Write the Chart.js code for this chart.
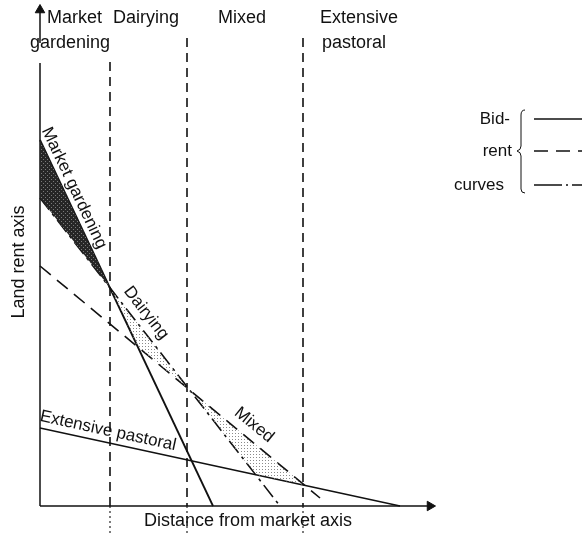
<!DOCTYPE html>
<html>
<head>
<meta charset="utf-8">
<script src="https://cdn.jsdelivr.net/npm/chart.js@4.4.1/dist/chart.umd.min.js"></script>
<style>
  html, body { margin: 0; padding: 0; background: #ffffff; }
  #wrap { width: 586px; height: 536px; }
</style>
</head>
<body>
<div id="wrap"><canvas id="c" width="586" height="536"></canvas></div>
<script>
// ---------- data ----------
const curveNames      = ['Market gardening', 'Dairying', 'Mixed', 'Extensive pastoral'];
const rentAtMarket    = [366, 308, 240, 78];     // bid rent at distance 0
const curveEndDist    = [173, 240, 280, 360];    // distance where each drawn curve stops
const curveEndRent    = [0, 0, 8, 0];            // rent at that end
const zoneNames       = [['Market', 'gardening'], ['Dairying'], ['Mixed'], ['Extensive', 'pastoral']];
const zoneBoundaries  = [70, 147, 263];          // distances of the zone dividers
const boundaryTops    = [444, 468, 468];         // top of each divider
const axisEnds        = { distance: 392, rent: 498 };
const legendWords     = ['Bid-', 'rent', 'curves'];

// ---------- helpers ----------
const slope = i => (curveEndRent[i] - rentAtMarket[i]) / curveEndDist[i];
const rentAt = (i, d) => rentAtMarket[i] + slope(i) * d;
function cross(i, j) {
  const d = (rentAtMarket[j] - rentAtMarket[i]) / (slope(i) - slope(j));
  return { x: d, y: rentAt(i, d) };
}
const MG = 0, DA = 1, MX = 2, EP = 3;

// shaded surplus areas (built from the curves' crossings)
const pMGDA = cross(MG, DA), pDAMX = cross(DA, MX), pMGMX = cross(MG, MX);
const pMXEP = cross(MX, EP), pDAEP = cross(DA, EP);
const darkArea = [{x: 0, y: rentAtMarket[MG]}, pMGDA, {x: 0, y: rentAtMarket[DA]}, {x: 0, y: rentAtMarket[MG]}];
const dairyArea = [pMGDA, pDAMX, pMGMX, pMGDA];
const mixedArea = [pDAMX, pMXEP, pDAEP, pDAMX];

// ---------- patterns ----------
function makePattern(bg, dot, size, dots) {
  const c = document.createElement('canvas');
  c.width = size; c.height = size;
  const g = c.getContext('2d');
  if (bg) { g.fillStyle = bg; g.fillRect(0, 0, size, size); }
  g.fillStyle = dot;
  dots.forEach(p => g.fillRect(p[0], p[1], 1, 1));
  return g.createPattern(c, 'repeat');
}
const darkFill  = makePattern('#262626', '#7a7a7a', 4, [[1, 1], [3, 3]]);
const lightFill = makePattern('rgba(0,0,0,0)', '#8a8a8a', 3, [[1, 1]]);

// ---------- datasets ----------
const curveStyles = [
  { w: 1.8, dash: [] },
  { w: 1.6, dash: [15, 5, 3, 5] },
  { w: 1.6, dash: [14, 8] },
  { w: 1.4, dash: [] }
];
const datasets = [];
// fills first
[[darkArea, darkFill], [dairyArea, lightFill], [mixedArea, lightFill]].forEach(([pts, bg]) => {
  datasets.push({ data: pts, showLine: true, fill: 'shape', backgroundColor: bg,
    borderWidth: 0, borderColor: 'rgba(0,0,0,0)', pointRadius: 0, tension: 0 });
});
// curves
curveNames.forEach((n, i) => {
  datasets.push({ label: n,
    data: [{x: 0, y: rentAtMarket[i]}, {x: curveEndDist[i], y: curveEndRent[i]}],
    showLine: true, fill: false, borderColor: '#111', borderWidth: curveStyles[i].w,
    borderDash: curveStyles[i].dash, pointRadius: 0 });
});
// zone dividers
zoneBoundaries.forEach((d, k) => {
  datasets.push({ data: [{x: d, y: boundaryTops[k]}, {x: d, y: 0}], showLine: true,
    borderColor: '#111', borderWidth: 1.6, borderDash: [9, 6], pointRadius: 0, fill: false });
  datasets.push({ data: [{x: d, y: 0}, {x: d, y: -30}], showLine: true,
    borderColor: '#111', borderWidth: 1.1, borderDash: [2, 3], pointRadius: 0, fill: false });
});
// axes
datasets.push({ data: [{x: 0, y: 0}, {x: 0, y: 443}], showLine: true, borderColor: '#111', borderWidth: 1.5, pointRadius: 0, fill: false });
datasets.push({ data: [{x: 0, y: 463}, {x: 0, y: axisEnds.rent - 4}], showLine: true, borderColor: '#111', borderWidth: 1.5, pointRadius: 0, fill: false });
datasets.push({ data: [{x: 0, y: axisEnds.rent - 2}], showLine: false, pointStyle: 'triangle', pointRadius: 5.5,
  pointRotation: 0, backgroundColor: '#111', borderColor: '#111', borderWidth: 1 });
datasets.push({ data: [{x: 0, y: 0}, {x: axisEnds.distance - 4, y: 0}], showLine: true, borderColor: '#111', borderWidth: 1.5, pointRadius: 0, fill: false });
datasets.push({ data: [{x: axisEnds.distance - 2, y: 0}], showLine: false, pointStyle: 'triangle', pointRadius: 5.5,
  pointRotation: 90, backgroundColor: '#111', borderColor: '#111', borderWidth: 1 });

// ---------- text plugin ----------
const FONT = '"Liberation Sans", Arial, Helvetica, sans-serif';
const zoneLabelSpots = [[7, 488], [73, 488], [178, 488], [280, 488]];
const curveLabelSpots = [[34, 318], [106, 193], [214, 81], [68, 75]];

const textPlugin = {
  id: 'texts',
  afterDatasetsDraw(chart) {
    const { ctx, scales: { x, y } } = chart;
    const X = v => x.getPixelForValue(v), Y = v => y.getPixelForValue(v);
    ctx.save();
    ctx.fillStyle = '#111';
    ctx.textBaseline = 'middle';
    ctx.font = '18px ' + FONT;
    // zone labels
    zoneNames.forEach((lines, k) => {
      const [dx, ry] = zoneLabelSpots[k];
      ctx.textAlign = 'left';
      ctx.fillText(lines[0], X(dx), Y(ry));
      if (lines[1]) {
        const off = k === 0 ? -17 : 2;
        ctx.fillText(lines[1], X(dx + off), Y(ry - 25));
      }
    });
    // axis titles
    ctx.textAlign = 'center';
    ctx.fillText('Distance from market axis', X(208), Y(-15));
    ctx.save();
    ctx.translate(X(-21), Y(244));
    ctx.rotate(-Math.PI / 2);
    ctx.fillText('Land rent axis', 0, 0);
    ctx.restore();
    // curve labels
    ctx.font = '17px ' + FONT;
    curveNames.forEach((n, i) => {
      const ang = Math.atan2(Y(curveEndRent[i]) - Y(rentAtMarket[i]), X(curveEndDist[i]) - X(0));
      const [dx, ry] = curveLabelSpots[i];
      ctx.save();
      ctx.translate(X(dx), Y(ry));
      ctx.rotate(ang);
      ctx.textAlign = 'center';
      ctx.fillText(n, 0, 0);
      ctx.restore();
    });
    // legend
    const ca = chart.chartArea;
    const lx = ca.left, ty = ca.top;
    ctx.font = '17px ' + FONT;
    ctx.textAlign = 'right';
    const rows = [119, 151, 185];
    const rights = [510, 512, 504];
    legendWords.forEach((w, k) => ctx.fillText(w, lx + rights[k], ty + rows[k]));
    ctx.strokeStyle = '#111';
    ctx.lineWidth = 1.6;
    const styles = [[], [14, 8], [28, 4, 2, 4]];
    rows.forEach((r, k) => {
      ctx.setLineDash(styles[k]);
      ctx.beginPath();
      ctx.moveTo(lx + 534, ty + r);
      ctx.lineTo(lx + 582, ty + r);
      ctx.stroke();
    });
    ctx.setLineDash([]);
    ctx.lineWidth = 1;
    ctx.beginPath();
    ctx.moveTo(lx + 525, ty + 110);
    ctx.quadraticCurveTo(lx + 521, ty + 110, lx + 521, ty + 115);
    ctx.lineTo(lx + 521, ty + 146);
    ctx.quadraticCurveTo(lx + 521, ty + 150, lx + 517, ty + 151);
    ctx.quadraticCurveTo(lx + 521, ty + 152, lx + 521, ty + 156);
    ctx.lineTo(lx + 521, ty + 189);
    ctx.quadraticCurveTo(lx + 521, ty + 193, lx + 525, ty + 193);
    ctx.stroke();
    ctx.restore();
  }
};

new Chart(document.getElementById('c'), {
  type: 'scatter',
  data: { datasets },
  options: {
    responsive: false,
    devicePixelRatio: 1,
    animation: false,
    layout: { padding: 0, autoPadding: false },
    plugins: { legend: { display: false }, tooltip: { enabled: false }, title: { display: false } },
    scales: {
      x: { type: 'linear', min: -40, max: 546, display: false },
      y: { type: 'linear', min: -30, max: 506, display: false }
    },
    elements: { line: { tension: 0 } }
  },
  plugins: [textPlugin]
});
</script>
</body>
</html>
